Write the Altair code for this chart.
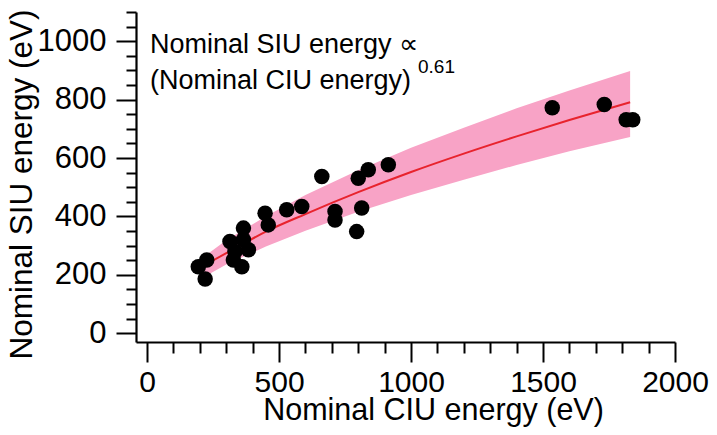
import altair as alt
import pandas as pd

# measured points (Nominal CIU energy, Nominal SIU energy), eV
ciu = [194, 226, 220, 314, 365, 365, 384, 327, 359, 333, 447, 459, 529, 586,
       662, 712, 712, 800, 838, 914, 813, 794, 1535, 1732, 1815, 1840]
siu = [228, 251, 186, 314, 360, 320, 286, 251, 228, 280, 411, 371, 423, 434,
       537, 417, 388, 531, 560, 577, 429, 348, 772, 783, 731, 731]

# fitted power law and its band
fit_ciu = [200, 300, 450, 600, 800, 1000, 1200, 1400, 1600, 1830]
fit_siu = [225, 274, 348, 408, 483, 552, 615, 674, 730, 791]
band_lo = [185, 235, 297, 351, 416, 473, 526, 576, 623, 672]
band_hi = [252, 318, 401, 473, 558, 635, 704, 770, 831, 898]

x_ticks = list(range(0, 2001, 100))
y_ticks = list(range(0, 1101, 50))

annot_line1 = ["Nominal SIU energy \u221d"]
annot_line2 = ["(Nominal CIU energy)"]
annot_exp = ["0.61"]

FONT = "Liberation Sans"

pts = pd.DataFrame({"ciu": ciu, "siu": siu})
fit = pd.DataFrame({"ciu": fit_ciu, "siu": fit_siu, "lo": band_lo, "hi": band_hi})

x_scale = alt.Scale(domain=[-42, 2000], nice=False, zero=False)
y_scale = alt.Scale(domain=[-30, 1100], nice=False, zero=False)

common_axis = dict(
    grid=False, domainColor="black", domainWidth=2.2, tickColor="black",
    tickWidth=2, labelFont=FONT, labelColor="black",
    titleFont=FONT, titleColor="black", titleFontWeight="normal",
    labelFlush=False, labelOverlap=False,
)

x_axis = alt.Axis(
    values=x_ticks, format="d", title="Nominal CIU energy (eV)",
    labelExpr="datum.value % 500 === 0 ? datum.label : ''",
    tickSize={"condition": {"test": "datum.value % 500 === 0", "value": 20}, "value": 11},
    labelFontSize=30, titleFontSize=30.5,
    labelPadding=5, titleX=297, titleY=77.5, titleBaseline="alphabetic",
    titleAnchor="middle", titleAlign="center",
    **common_axis,
)
y_axis = alt.Axis(
    values=y_ticks, format="d", title="Nominal SIU energy (eV)",
    labelExpr="datum.value % 200 === 0 ? datum.label : ''",
    tickSize={"condition": {"test": "datum.value % 200 === 0", "value": 20}, "value": 10},
    labelFontSize=31, titleFontSize=31.5,
    labelPadding=10, titleX=-105, titleY=172, titleBaseline="alphabetic",
    titleAngle=270, titleAlign="center",
    **common_axis,
)

X = lambda f: alt.X(f, scale=x_scale, axis=x_axis)
Y = lambda f: alt.Y(f, scale=y_scale, axis=y_axis)

band = alt.Chart(fit).mark_area(color="#f8a3c6", opacity=1).encode(
    x=X("ciu:Q"), y=Y("lo:Q"), y2="hi:Q",
)
line = alt.Chart(fit).mark_line(color="#e8232d", strokeWidth=2, interpolate="monotone").encode(
    x=X("ciu:Q"), y=Y("siu:Q"),
)
points = alt.Chart(pts).mark_circle(color="black", opacity=1, size=240).encode(
    x=X("ciu:Q"), y=Y("siu:Q"),
)

def label(texts, px, py, size):
    return alt.Chart(pd.DataFrame({"t": texts})).mark_text(
        align="left", baseline="alphabetic", font=FONT, fontSize=size, color="black"
    ).encode(x=alt.value(px), y=alt.value(py), text="t:N")

t1 = label(annot_line1, 14, 41, 27)
t2 = label(annot_line2, 14, 77, 27)
t3 = label(annot_exp, 282, 61, 19)

chart = alt.layer(band, line, points, t1, t2, t3).properties(
    width=539, height=330,
    padding={"left": 128, "top": 4, "right": 34, "bottom": 85},
    autosize=alt.AutoSizeParams(type="none"),
).configure(background="white").configure_view(stroke=None)

chart.save("out.html", embed_options={"renderer": "svg", "actions": False})
